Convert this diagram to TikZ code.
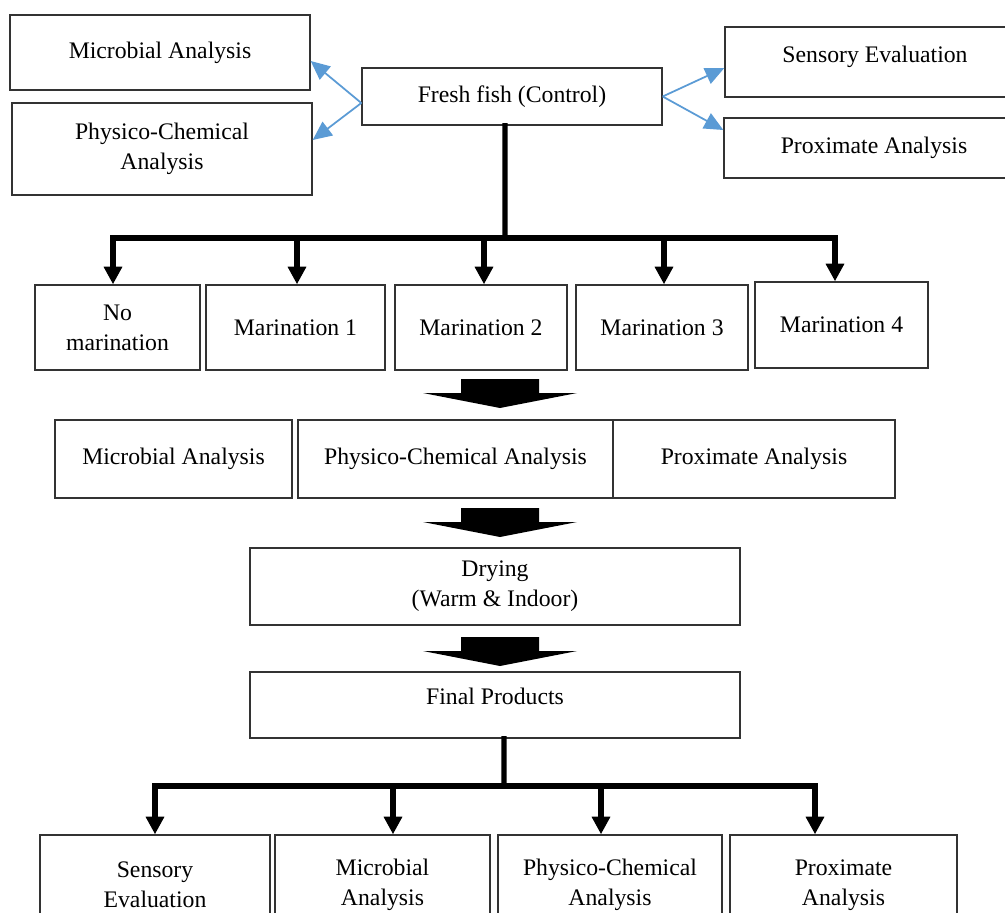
\documentclass[tikz,border=0pt]{standalone}
\usepackage{fontspec}
\setmainfont{Liberation Serif}
\usetikzlibrary{arrows.meta,positioning}
\definecolor{arrowblue}{RGB}{91,155,213}

\begin{document}
\begin{tikzpicture}[
    x=0.02cm, y=-0.02cm,
    box/.style={rectangle, draw=black!80, line width=0.8pt, align=center, inner sep=2pt, font=\fontsize{13.5}{17}\selectfont},
    bluearrow/.style={-{Triangle[length=0.38cm,width=0.34cm]}, draw=arrowblue, line width=1pt},
    tree/.style={line width=2.9pt, line cap=rect},
    treearrow/.style={-{Triangle[length=10pt,width=10pt]}, line width=2.9pt}
]
\useasboundingbox (0,0) rectangle (1005,913);
\clip (0,0) rectangle (1005,913);

% top row
\node[box, minimum width=6cm, minimum height=1.5cm] (micro1) at (160,52.5) {Microbial Analysis};
\node[box, minimum width=6cm, minimum height=1.84cm] (phys1) at (162,149) {Physico-Chemical\\Analysis};
\node[box, minimum width=6cm, minimum height=1.14cm] (fresh) at (512,96.5) {Fresh fish (Control)};
\node[box, minimum width=6cm, minimum height=1.4cm, text depth=0.3cm] (sens1) at (875,62) {Sensory Evaluation};
\node[box, minimum width=6cm, minimum height=1.2cm] (prox1) at (874,148) {Proximate Analysis};

% treatments
\node[box, minimum width=3.3cm, minimum height=1.7cm] (nomar) at (117.5,327.5) {No\\marination};
\node[box, minimum width=3.58cm, minimum height=1.7cm] (mar1) at (295.5,327.5) {Marination 1};
\node[box, minimum width=3.44cm, minimum height=1.7cm] (mar2) at (481,327.5) {Marination 2};
\node[box, minimum width=3.44cm, minimum height=1.7cm] (mar3) at (662,327.5) {Marination 3};
\node[box, minimum width=3.46cm, minimum height=1.72cm] (mar4) at (841.5,325) {Marination 4};

% analyses after marination
\node[box, minimum width=4.74cm, minimum height=1.56cm] (micro2) at (173.5,459) {Microbial Analysis};
\node[box, minimum width=6.3cm, minimum height=1.56cm] (phys2) at (455.5,459) {Physico-Chemical Analysis};
\node[box, minimum width=5.64cm, minimum height=1.56cm] (prox2) at (754,459) {Proximate Analysis};

\node[box, minimum width=9.8cm, minimum height=1.54cm] (dry) at (495,586.5) {Drying\\(Warm \& Indoor)};
\node[box, minimum width=9.8cm, minimum height=1.32cm, text depth=0.36cm] (final) at (495,705) {Final Products};

% bottom row
\node[box, minimum width=4.6cm, minimum height=2cm] (sens3) at (155,885) {Sensory\\Evaluation};
\node[box, minimum width=4.3cm, minimum height=2cm] (micro3) at (382.5,885) {Microbial\\Analysis};
\node[box, minimum width=4.48cm, minimum height=2cm] (phys3) at (610,885) {Physico-Chemical\\Analysis};
\node[box, minimum width=4.54cm, minimum height=2cm] (prox3) at (843.5,885) {Proximate\\Analysis};

% blue side arrows
\draw[bluearrow] ([yshift=-0.13cm]fresh.west) -- ([yshift=-0.17cm]micro1.east);
\draw[bluearrow] ([yshift=-0.13cm]fresh.west) -- ([yshift=0.18cm]phys1.east);
\draw[bluearrow] (fresh.east) -- ([yshift=-0.12cm]sens1.west);
\draw[bluearrow] (fresh.east) -- ([yshift=0.36cm]prox1.west);

% split to treatments
\coordinate (split1) at (505,238);
\draw[tree] ([xshift=-0.14cm]fresh.south) -- (split1);
\draw[tree] ([xshift=-0.09cm]nomar.north |- split1) -- ([xshift=-0.13cm]mar4.north |- split1);
\foreach \m/\dx in {nomar/-0.09, mar1/0.03, mar2/0.06, mar3/0.04, mar4/-0.13}
  \draw[treearrow] ([xshift=\dx cm]\m.north |- split1) -- ([xshift=\dx cm]\m.north);

% block arrows
\coordinate (fat1) at (461,379);
\coordinate (fat2) at (461,508);
\coordinate (fat3) at (461,637);
\foreach \f in {fat1,fat2,fat3}
  \fill (\f) -- ++(78,0) -- ++(0,14) -- ++(38,0) -- ++(-77,15) -- ++(-77,-15) -- ++(38,0) -- cycle;

% split to final analyses
\coordinate (split2) at (504,786);
\draw[tree] ([xshift=0.18cm]final.south) -- (split2);
\draw[tree] (sens3.north |- split2) -- ([xshift=-0.57cm]prox3.north |- split2);
\foreach \m/\dx in {sens3/0, micro3/0.21, phys3/-0.18, prox3/-0.57}
  \draw[treearrow] ([xshift=\dx cm]\m.north |- split2) -- ([xshift=\dx cm]\m.north);

\end{tikzpicture}
\end{document}
